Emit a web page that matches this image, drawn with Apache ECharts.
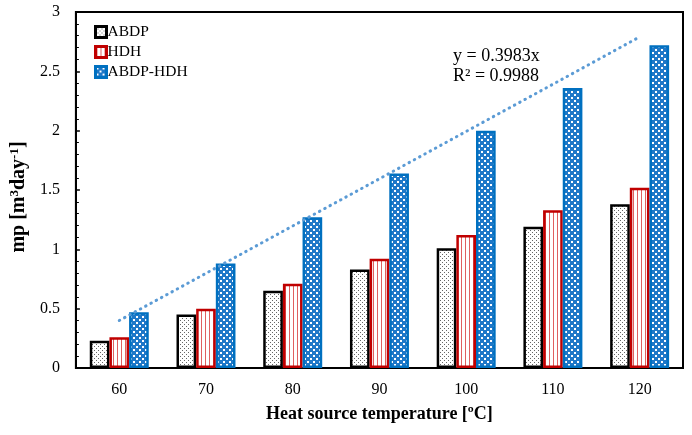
<!DOCTYPE html>
<html>
<head>
<meta charset="utf-8">
<script src="https://cdn.jsdelivr.net/npm/echarts@6/dist/echarts.min.js"></script>
<style>
    html, body { margin: 0; padding: 0; background: #fff; }
    #main { width: 692px; height: 435px; }
</style>
</head>
<body>
<div id="main"></div>
<script>
const temps = ['60', '70', '80', '90', '100', '110', '120']
const abdp = [0.23, 0.45, 0.65, 0.83, 1.01, 1.19, 1.38]
const hdh = [0.26, 0.50, 0.71, 0.92, 1.12, 1.33, 1.52]
const abdpHdh = [0.47, 0.88, 1.27, 1.64, 2.00, 2.36, 2.72]
// trend line end points (first and last category)
const trend = [0.40, null, null, null, null, null, 2.79]

const serif = 'Liberation Serif'

function makePattern(w, h, draw) {
    const c = document.createElement('canvas')
    c.width = w
    c.height = h
    const ctx = c.getContext('2d')
    draw(ctx)
    return { image: c, repeat: 'repeat' }
}

const dotPattern = makePattern(4, 4, ctx => {
    ctx.fillStyle = '#fff'
    ctx.fillRect(0, 0, 4, 4)
    ctx.fillStyle = '#666'
    ctx.fillRect(0, 0, 1, 1)
    ctx.fillRect(2, 2, 1, 1)
})

const stripePattern = makePattern(4, 4, ctx => {
    ctx.fillStyle = '#fff'
    ctx.fillRect(0, 0, 4, 4)
    ctx.fillStyle = '#e06060'
    ctx.fillRect(1, 0, 1, 4)
})

const bubblePattern = makePattern(6, 6, ctx => {
    ctx.fillStyle = '#1f78c8'
    ctx.fillRect(0, 0, 6, 6)
    ctx.fillStyle = '#fff'
    ctx.fillRect(1, 1, 2, 2)
    ctx.fillRect(4, 4, 2, 2)
})

const myChart = echarts.init(document.getElementById('main'))

const option = {
    backgroundColor: '#fff',
    animation: false,
    grid: {
        left: 73,
        right: 9,
        top: 12,
        bottom: 67,
        show: true,
        borderColor: '#000',
        borderWidth: 2,
    },
    legend: {
        orient: 'vertical',
        left: 89,
        top: 19,
        itemGap: 4,
        itemWidth: 11,
        itemHeight: 11,
        icon: 'rect',
        itemStyle: {
            borderWidth: 3,
        },
        textStyle: {
            fontFamily: serif,
            fontSize: 15.5,
            color: '#000',
            padding: [0, 0, 0, -4],
        },
        data: ['ABDP', 'HDH', 'ABDP-HDH'],
    },
    xAxis: {
        type: 'category',
        data: temps,
        name: 'Heat source temperature [ºC]',
        nameLocation: 'middle',
        nameGap: 37,
        nameTextStyle: {
            fontFamily: serif,
            fontSize: 18,
            fontWeight: 'bold',
            color: '#000',
        },
        axisLine: {
            lineStyle: { color: '#000', width: 2 },
        },
        axisTick: {
            inside: true,
            length: 4,
            interval: 0,
            lineStyle: { color: '#000', width: 1.5 },
        },
        axisLabel: {
            fontFamily: serif,
            fontSize: 16,
            color: '#000',
            margin: 14,
        },
    },
    yAxis: {
        type: 'value',
        min: 0,
        max: 3,
        interval: 0.5,
        name: 'mp [m{sup|3}day{sup|-1}]',
        nameLocation: 'middle',
        nameGap: 39,
        nameTextStyle: {
            fontFamily: serif,
            fontSize: 20,
            fontWeight: 'bold',
            color: '#000',
            padding: [0, 14, 0, 0],
            rich: {
                sup: {
                    fontFamily: serif,
                    fontSize: 13,
                    fontWeight: 'bold',
                    color: '#000',
                    padding: [0, 0, 9, 0],
                },
            },
        },
        axisLine: {
            show: true,
            lineStyle: { color: '#000', width: 2 },
        },
        axisTick: {
            show: true,
            inside: true,
            length: 4,
            lineStyle: { color: '#000', width: 1.5 },
        },
        minorTick: {
            show: true,
            splitNumber: 5,
            length: 3,
            lineStyle: { color: '#000', width: 1 },
        },
        splitLine: { show: false },
        axisLabel: {
            fontFamily: serif,
            fontSize: 16,
            color: '#000',
            margin: 16,
        },
    },
    graphic: [
        {
            type: 'text',
            left: 453,
            top: 46,
            style: {
                text: 'y = 0.3983x\nR² = 0.9988',
                font: '18px "Liberation Serif"',
                fill: '#000',
                lineHeight: 20,
            },
        },
    ],
    series: [
        {
            name: 'ABDP',
            type: 'bar',
            data: abdp,
            itemStyle: {
                color: dotPattern,
                borderColor: '#000',
                borderWidth: 2.5,
            },
        },
        {
            name: 'HDH',
            type: 'bar',
            data: hdh,
            itemStyle: {
                color: stripePattern,
                borderColor: '#c00000',
                borderWidth: 2.5,
            },
        },
        {
            name: 'ABDP-HDH',
            type: 'bar',
            data: abdpHdh,
            barGap: '0%',
            barCategoryGap: '32%',
            itemStyle: {
                color: bubblePattern,
                borderColor: '#0070c0',
                borderWidth: 2.5,
            },
        },
        {
            name: 'trend',
            type: 'line',
            data: trend,
            connectNulls: true,
            symbol: 'none',
            z: 5,
            lineStyle: {
                color: '#5b9bd5',
                width: 3,
                type: [0.5, 5.5],
                cap: 'round',
            },
        },
    ],
}

myChart.setOption(option)
</script>
</body>
</html>
